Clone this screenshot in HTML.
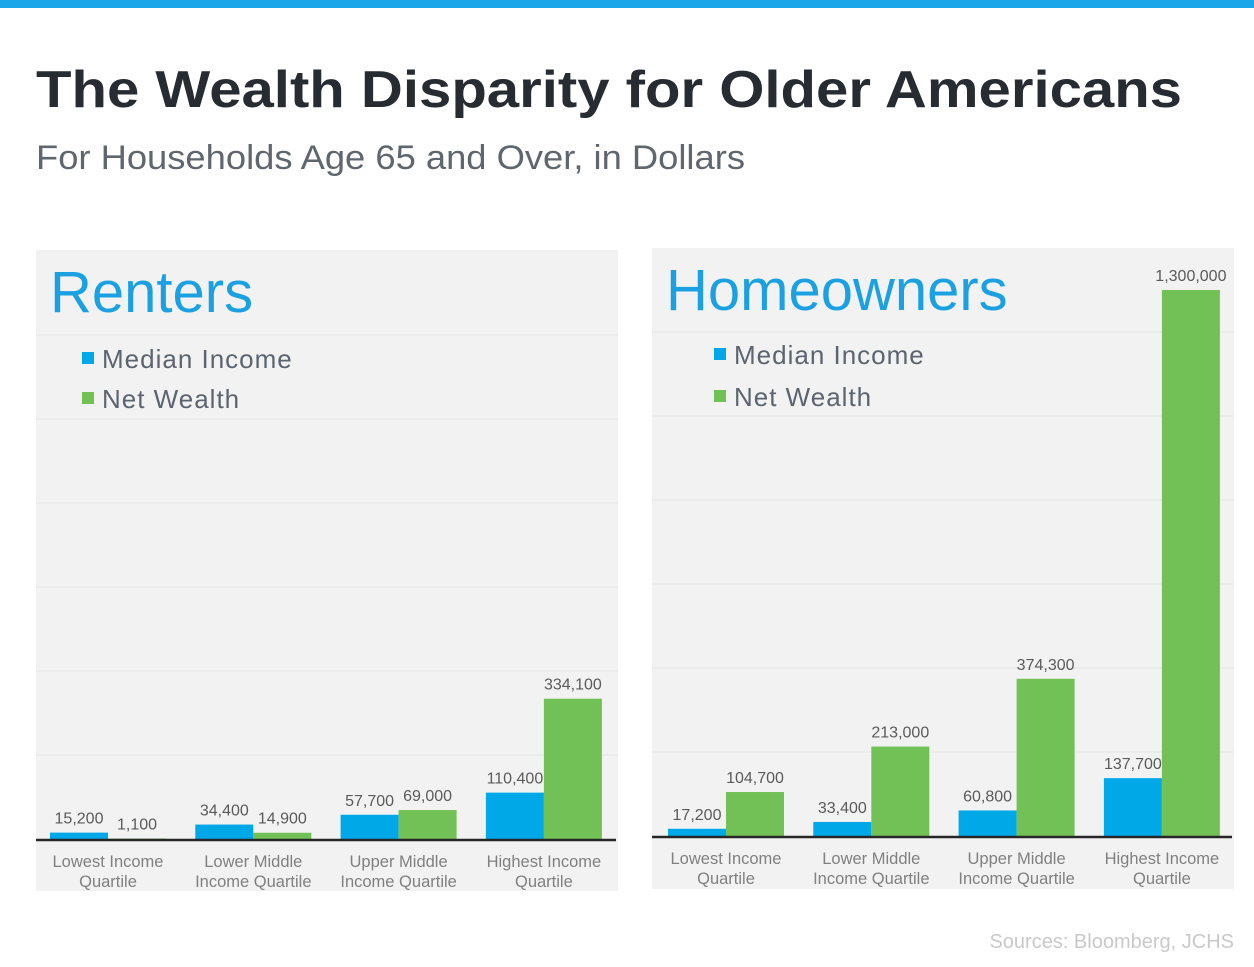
<!DOCTYPE html>
<html><head><meta charset="utf-8"><style>
html,body{margin:0;padding:0;background:#fff;width:1254px;height:967px;overflow:hidden;font-family:"Liberation Sans",sans-serif}
</style></head><body>
<svg id="chart" width="1254" height="967" viewBox="0 0 1254 967" xmlns="http://www.w3.org/2000/svg">
<rect x="0" y="0" width="1254" height="8" fill="#1aa6e8"/>
<text x="36" y="107" font-size="52" font-weight="bold" fill="#272c33" textLength="1146" lengthAdjust="spacingAndGlyphs">The Wealth Disparity for Older Americans</text>
<text x="36" y="169" font-size="34" fill="#5f666d" textLength="709" lengthAdjust="spacingAndGlyphs">For Households Age 65 and Over, in Dollars</text>
<text x="1234" y="948" font-size="20" fill="#c9c9c9" text-anchor="end">Sources: Bloomberg, JCHS</text>
<g id="panels"></g>
</svg>
<script>
const categories = ["Lowest Income|Quartile","Lower Middle|Income Quartile","Upper Middle|Income Quartile","Highest Income|Quartile"];
const renterIncome = [15200, 34400, 57700, 110400];
const renterWealth = [1100, 14900, 69000, 334100];
const ownerIncome = [17200, 33400, 60800, 137700];
const ownerWealth = [104700, 213000, 374300, 1300000];
const gridTicks = [0, 200000, 400000, 600000, 800000, 1000000, 1200000];

const NS = "http://www.w3.org/2000/svg";
const root = document.getElementById("panels");
function mk(tag, attrs, parent){const e=document.createElementNS(NS,tag);for(const k in attrs)e.setAttribute(k,attrs[k]);parent.appendChild(e);return e;}
function fmt(v){return v.toLocaleString("en-US");}

function panel(opt){
  const g = mk("g",{},root);
  
  
  const bg = mk("rect",{x:opt.x,y:opt.y,width:582,height:641,fill:"#f2f2f2"},g);
  
  
  const pxPer = 84/200000;
  const yScale = v => opt.base - v*pxPer;
  gridTicks.forEach(t=>{
    if(t===0) return;
    const l = mk("line",{x1:opt.x,x2:opt.x+582,y1:yScale(t),y2:yScale(t),stroke:"#e4e4e4","stroke-width":1},g);
    
    
  });
  const title = mk("text",{x:opt.x+14,y:opt.y+62,"font-size":58,fill:"#1ba1e2"},g);
  title.textContent = opt.title;
  
  
  const leg = [["Median Income","#00a8e8"],["Net Wealth","#72c157"]];
  leg.forEach((L,i)=>{
    const ly = opt.legY + i*opt.legGap;
    const sq = mk("rect",{x:opt.legX,y:ly-16,width:12,height:12,fill:L[1]},g);
    
    
    const t = mk("text",{x:opt.legX+20,y:ly,"font-size":26,fill:"#5c6470","letter-spacing":"1"},g);
    t.textContent = L[0];
    
    
  });
  const bw = 58, step = 145.3;
  categories.forEach((c,i)=>{
    const x0 = opt.barX + i*step;
    [[opt.income[i],"#00a8e8","income"],[opt.wealth[i],"#72c157","wealth"]].forEach((s,j)=>{
      const bx = x0 + j*bw;
      const top = yScale(s[0]);
      const r = mk("rect",{x:bx,y:top,width:bw,height:opt.base-top,fill:s[1]},g);
      
      
      const lab = mk("text",{x:bx+bw/2,y:top-9,"font-size":16,fill:"#5a5a5a","text-anchor":"middle"},g);
      lab.textContent = fmt(s[0]);
      
      
    });
    const parts = c.split("|");
    parts.forEach((p,k)=>{
      const ct = mk("text",{x:x0+bw,y:opt.base+28+k*20,"font-size":16.5,fill:"#808080","text-anchor":"middle"},g);
      ct.textContent = p;
      
      
    });
  });
  const ax = mk("line",{x1:opt.x,x2:opt.x+580,y1:opt.base+1,y2:opt.base+1,stroke:"#262626","stroke-width":2.5},g);
  
  
}
panel({name:"renters",title:"Renters",x:36,y:250,base:839,barX:50,legX:82,legY:368,legGap:40,income:renterIncome,wealth:renterWealth});
panel({name:"homeowners",title:"Homeowners",x:652,y:248,base:836,barX:668,legX:714,legY:364,legGap:42,income:ownerIncome,wealth:ownerWealth});
</script>
</body></html>
